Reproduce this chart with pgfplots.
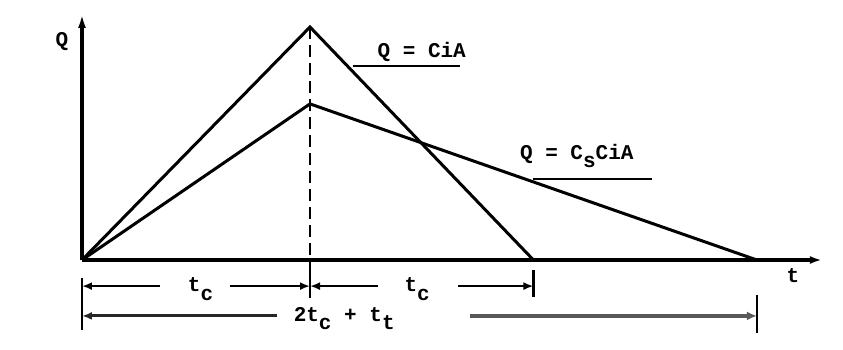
\documentclass[border=0pt]{standalone}
\usepackage{fontspec}
\setmainfont{Liberation Mono}
\usepackage{pgfplots}
\pgfplotsset{compat=1.18}
\usetikzlibrary{arrows.meta}

\newcommand{\sub}[1]{\raisebox{-0.75ex}{#1}}

\begin{document}
\begin{tikzpicture}[font=\bfseries\fontsize{10.5}{12}\selectfont]
\begin{axis}[
    scale only axis,
    width=421.5pt, height=174.5pt,
    xmin=-0.3596, xmax=3.3377,
    ymin=-0.382, ymax=1.1159,
    hide axis,
    clip=false
]
% keep the whole frame as the picture
\path (rel axis cs:0,0) rectangle (rel axis cs:1,1);

% hydrographs
\addplot[black, line width=1.5pt, line join=miter] coordinates {(0,0) (1,1) (1.98,0)};
\addplot[black, line width=1.5pt, line join=miter] coordinates {(0,0) (1,0.67) (2.96,0)};

% axes
\draw[line width=1.8pt, -{Latex[length=7pt,width=4pt]}] (axis cs:0,0) -- (axis cs:0,1.056);
\draw[line width=1.8pt, -{Latex[length=6pt,width=4pt]}] (axis cs:0,0) -- (axis cs:3.245,0);
\node at (axis cs:-0.088,0.936) {Q};
\node at (axis cs:3.118,-0.066) {t};

% peak line
\draw[line width=1.2pt, dash pattern=on 6pt off 3pt] (axis cs:1,1) -- (axis cs:1,0);
\draw[line width=1.2pt] (axis cs:1,0) -- (axis cs:1,-0.163);

% labels
\node at (axis cs:1.49,0.893) {Q = CiA};
\draw[line width=1.2pt] (axis cs:1.19,0.833) -- (axis cs:1.66,0.833);
\node at (axis cs:2.17,0.445) {Q = C\sub{s}CiA};
\draw[line width=1.2pt] (axis cs:1.98,0.348) -- (axis cs:2.50,0.348);

% dimension ticks
\draw[line width=1.1pt] (axis cs:0,-0.077) -- (axis cs:0,-0.300);
\draw[line width=1.1pt] (axis cs:1.98,-0.043) -- (axis cs:1.98,-0.159);
\draw[line width=1.1pt] (axis cs:2.96,-0.150) -- (axis cs:2.96,-0.313);

% t_c dimensions
\draw[line width=1.3pt, -{Latex[length=5pt,width=4pt]}] (axis cs:0.342,-0.112) -- (axis cs:0,-0.112);
\draw[line width=1.3pt, -{Latex[length=5pt,width=4pt]}] (axis cs:0.649,-0.112) -- (axis cs:1,-0.112);
\node at (axis cs:0.52,-0.125) {t\sub{c}};
\draw[line width=1.3pt, -{Latex[length=5pt,width=4pt]}] (axis cs:1.298,-0.112) -- (axis cs:1,-0.112);
\draw[line width=1.3pt, -{Latex[length=5pt,width=4pt]}] (axis cs:1.649,-0.112) -- (axis cs:1.98,-0.112);
\node at (axis cs:1.47,-0.125) {t\sub{c}};

% 2t_c + t_t dimension
\draw[black!85, line width=1.5pt, -{Latex[length=5pt,width=4pt]}] (axis cs:0.855,-0.240) -- (axis cs:0,-0.240);
\draw[gray!70!black, line width=2pt, -{Latex[length=5pt,width=4.5pt]}] (axis cs:1.70,-0.240) -- (axis cs:2.96,-0.240);
\node at (axis cs:1.15,-0.250) {2t\sub{c} + t\sub{t}};
\end{axis}
\end{tikzpicture}
\end{document}
